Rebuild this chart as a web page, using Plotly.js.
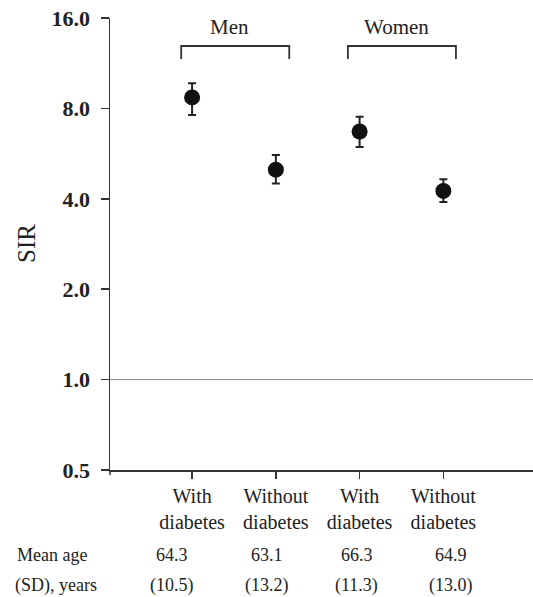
<!DOCTYPE html>
<html><head><meta charset="utf-8">
<script src="https://cdn.plot.ly/plotly-3.0.1.min.js"></script>
<style>html,body{margin:0;padding:0;background:#fff}#c{width:533px;height:597px}</style>
</head><body><div id="c"></div>
<script>
const groups = ["Men", "Women"];
const categories = ["With<br>diabetes", "Without<br>diabetes", "With<br>diabetes", "Without<br>diabetes"];
const sir = [8.7, 5.0, 6.7, 4.25];
const ciUpper = [9.7, 5.6, 7.5, 4.65];
const ciLower = [7.6, 4.5, 5.95, 3.9];
const meanAge = ["64.3", "63.1", "66.3", "64.9"];
const sdAge = ["(10.5)", "(13.2)", "(11.3)", "(13.0)"];
const yTicks = [0.5, 1, 2, 4, 8, 16];
const yTickText = ["0.5", "1.0", "2.0", "4.0", "8.0", "16.0"];

const xs = categories.map((_, i) => i + 1);
const F = "Liberation Serif";
const ink = "#222";

const trace = {
  x: xs, y: sir, type: "scatter", mode: "markers",
  marker: {color: "#111", size: 16},
  error_y: {type: "data", symmetric: false,
    array: sir.map((v, i) => ciUpper[i] - v),
    arrayminus: sir.map((v, i) => v - ciLower[i]),
    color: ink, thickness: 2, width: 4},
  hoverinfo: "skip", showlegend: false
};

const H = 597, T = 18, B = 127, PH = H - T - B;
const L = 110, W = 533, PW = W - L;
const py = p => 1 - (p - T) / PH;
const px = p => (p - L) / PW;

const shiftsRow = [-20, -9, -3, 8];
const annotations = [];
xs.forEach((x, i) => {
  annotations.push({x: x, y: py(555), xref: "x", yref: "paper", yanchor: "middle", text: meanAge[i], showarrow: false, xshift: shiftsRow[i], font: {family: F, size: 18, color: ink}});
  annotations.push({x: x, y: py(585), xref: "x", yref: "paper", yanchor: "middle", text: sdAge[i], showarrow: false, xshift: shiftsRow[i], font: {family: F, size: 18, color: ink}});
});
annotations.push({x: px(15), y: py(555), xref: "paper", yref: "paper", yanchor: "middle", text: "Mean age", showarrow: false, xanchor: "left", font: {family: F, size: 18, color: ink}});
annotations.push({x: px(13), y: py(585), xref: "paper", yref: "paper", yanchor: "middle", text: "(SD), years", showarrow: false, xanchor: "left", font: {family: F, size: 18, color: ink}});
annotations.push({x: px(26), y: 0.5, xref: "paper", yref: "paper", xanchor: "center", yanchor: "middle", textangle: -90, text: "SIR", showarrow: false, font: {family: F, size: 25, color: ink}});

const brackets = [[0.87, 2.16], [2.86, 4.15]];
const shapes = [];
brackets.forEach((b, g) => {
  shapes.push({type: "path", xref: "x", yref: "paper",
    path: `M${b[0]},${py(59)} L${b[0]},${py(46)} L${b[1]},${py(46)} L${b[1]},${py(59)}`,
    line: {color: "#333", width: 1.8}});
  annotations.push({x: (b[0] + b[1]) / 2 - 0.07, y: py(27), xref: "x", yref: "paper", yanchor: "middle",
    text: groups[g], showarrow: false, font: {family: F, size: 21, color: ink}});
});
shapes.push({type: "line", xref: "paper", yref: "y", x0: 0, x1: 1, y0: 1, y1: 1, line: {color: "#888", width: 1}});
shapes.push({type: "line", xref: "paper", yref: "paper", x0: 0, x1: 0, y0: 0, y1: py(475), line: {color: "#333", width: 1.5}});

const layout = {
  width: W, height: H,
  margin: {l: L, r: 0, t: T, b: B},
  paper_bgcolor: "#fff", plot_bgcolor: "#fff",
  font: {family: F, color: ink},
  xaxis: {range: [0.02, 5.07], tickvals: xs, ticktext: categories,
    showgrid: false, zeroline: false, showline: true, linecolor: "#333", linewidth: 1.5,
    ticks: "outside", ticklen: 7, tickcolor: "#333", tickwidth: 1.5,
    tickfont: {family: F, size: 20, color: ink}, fixedrange: true},
  yaxis: {type: "log", range: [Math.log10(0.5), Math.log10(16)],
    tickvals: yTicks, ticktext: yTickText,
    showgrid: false, zeroline: false, showline: true, linecolor: "#333", linewidth: 1.5,
    ticks: "outside", ticklen: 8, tickcolor: "#333", tickwidth: 1.5, ticklabelstandoff: 6,
    tickfont: {family: F, size: 22, color: ink, weight: "bold"},
    fixedrange: true},
  shapes: shapes, annotations: annotations
};
Plotly.newPlot("c", [trace], layout, {displayModeBar: false, staticPlot: true});
</script></body></html>
